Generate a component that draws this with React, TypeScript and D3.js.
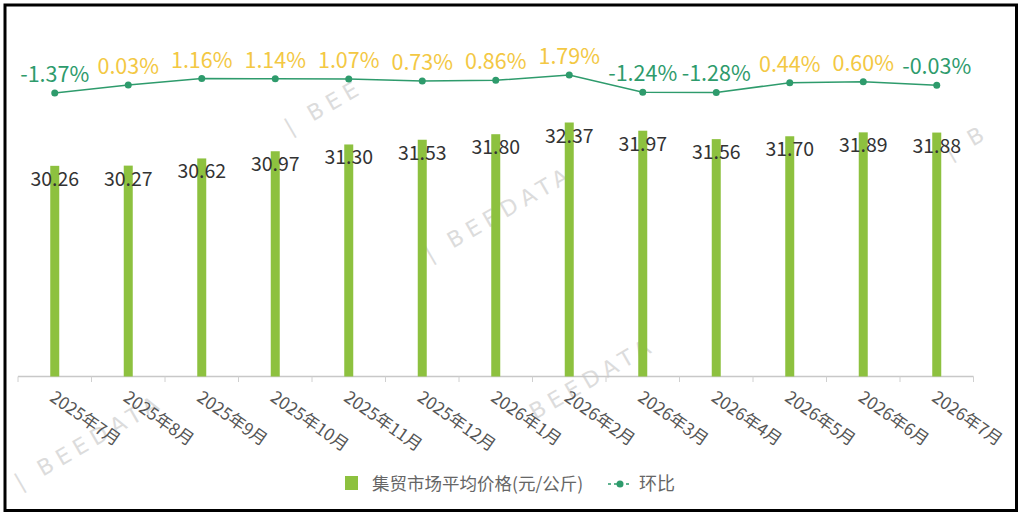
import React from "react";
import * as d3 from "d3";

const categories = ["2025年7月","2025年8月","2025年9月","2025年10月","2025年11月","2025年12月","2026年1月","2026年2月","2026年3月","2026年4月","2026年5月","2026年6月","2026年7月"];
const prices = [30.26,30.27,30.62,30.97,31.30,31.53,31.80,32.37,31.97,31.56,31.70,31.89,31.88];
const mom = [-1.37,0.03,1.16,1.14,1.07,0.73,0.86,1.79,-1.24,-1.28,0.44,0.60,-0.03];
const legendLabels = ["集贸市场平均价格(元/公斤)", "环比"];

const W = 1024, H = 515;
const FONT = "'Microsoft YaHei', 'Noto Sans CJK SC', 'Noto Sans', sans-serif";
const BAR = "#8DC13F";
const LINE = "#2E9B6C";
const POS = "#F3C843";

const watermarks = [
  { x: 290, y: 135, t: "| BEE", r: -30 },
  { x: 20, y: 490, t: "| BEEDATA", r: -30 },
  { x: 535, y: 420, t: "BEEDATA", r: -30 },
  { x: 430, y: 262, t: "| BEEDATA", r: -30 },
  { x: 950, y: 160, t: "| B", r: -30 },
];

export default function App() {
  const x = d3.scaleBand<string>().domain(categories).range([18, 973.5]).padding(0);
  const y = d3.scaleLinear().domain([20, 35]).range([376.5, 68.5]);
  const y2 = d3.scaleLinear().domain([-2, 2]).range([96.6, 73.8]);
  const bw = 9;
  const cx = (c: string) => (x(c) as number) + x.bandwidth() / 2;
  const linePath = d3.line<number>()
    .x((_, i) => cx(categories[i]))
    .y((d) => y2(d))(mom) as string;

  return (
    <svg width={W} height={H} style={{ position: "absolute", left: 0, top: 0, background: "#fff" }} fontFamily={FONT}>
      <rect x={0} y={0} width={W} height={H} fill="#fff" />
      {watermarks.map((w, i) => (
        <text key={"wm" + i} x={w.x} y={w.y} transform={`rotate(${w.r},${w.x},${w.y})`} fontSize={22} letterSpacing={6} fill="#dcdcdc" fontFamily="'DejaVu Sans', sans-serif">{w.t}</text>
      ))}
      {/* axis */}
      <line x1={18} x2={973.5} y1={376.5} y2={376.5} stroke="#c8c8c8" strokeWidth={1.5} />
      {d3.range(categories.length + 1).map((i) => {
        const xx = 18 + i * x.bandwidth();
        return <line key={"tk" + i} x1={xx} x2={xx} y1={376.5} y2={382} stroke="#d0d0d0" strokeWidth={1} />;
      })}
      {/* bars */}
      {categories.map((c, i) => (
        <rect key={"b" + i} x={cx(c) - bw / 2} y={y(prices[i])} width={bw} height={y(20) - y(prices[i])} fill={BAR} />
      ))}
      {categories.map((c, i) => (
        <text key={"bl" + i} x={cx(c)} y={y(prices[i]) + 20} textAnchor="middle" fontSize={19.5} fill="#333">{prices[i].toFixed(2)}</text>
      ))}
      {/* line */}
      <path d={linePath} fill="none" stroke={LINE} strokeWidth={1.5} />
      {categories.map((c, i) => (
        <circle key={"p" + i} cx={cx(c)} cy={y2(mom[i])} r={3.5} fill={LINE} />
      ))}
      {categories.map((c, i) => (
        <text key={"pl" + i} x={cx(c)} y={y2(mom[i]) - 11} textAnchor="middle" fontSize={21.5} fill={mom[i] < 0 ? LINE : POS}>{mom[i].toFixed(2) + "%"}</text>
      ))}
      {/* x labels */}
      {categories.map((c, i) => {
        const lx = cx(c) - 6, ly = 400;
        return (
          <text key={"xl" + i} x={lx} y={ly} transform={`rotate(35,${lx},${ly})`} fontSize={17} fill="#555">{c}</text>
        );
      })}
      {/* legend */}
      <rect x={345} y={476} width={13} height={14} fill={BAR} />
      <text x={372} y={489.5} fontSize={17.5} fill="#666">{legendLabels[0]}</text>
      <line x1={608} x2={632} y1={484} y2={484} stroke={LINE} strokeWidth={1.5} strokeDasharray="3,3" />
      <circle cx={620} cy={484} r={3.5} fill={LINE} />
      <text x={639} y={490} fontSize={18} fill="#666">{legendLabels[1]}</text>
      {/* frame */}
      <rect x={5} y={5} width={1011.5} height={505.5} fill="none" stroke="#000" strokeWidth={3} />
    </svg>
  );
}
